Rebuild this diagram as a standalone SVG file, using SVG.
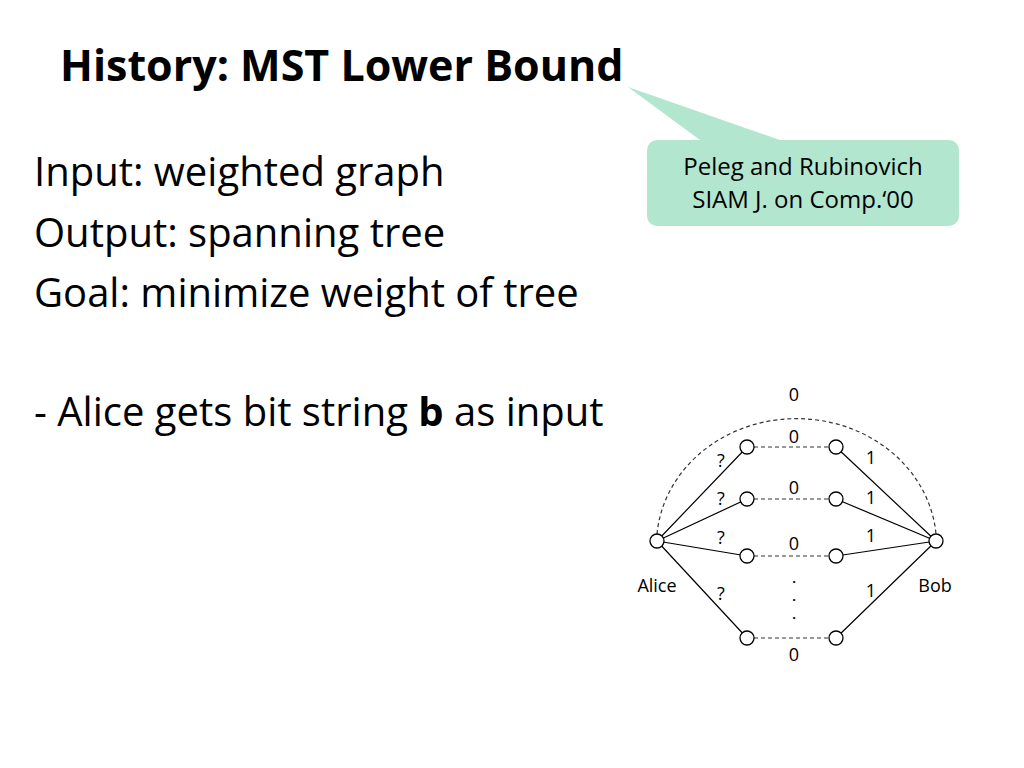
<svg xmlns="http://www.w3.org/2000/svg" width="1024" height="768" viewBox="0 0 1024 768">
<style>
text{font-family:"Open Sans","Liberation Sans",sans-serif;fill:#000}
.b{font-size:40px}
.s{font-size:18px;text-anchor:middle}
.dot{font-size:13px;font-weight:bold;text-anchor:middle}
.n{fill:#fff;stroke:#000;stroke-width:1.3}
.e{stroke:#000;stroke-width:1.2;fill:none}
.d{stroke:#333;stroke-width:1.2;fill:none;stroke-dasharray:4 3}
</style>
<rect width="1024" height="768" fill="#fff"/>
<text x="60" y="81" style="font-size:43px;font-weight:bold">History: MST Lower Bound</text>
<text class="b" x="34" y="186">Input: weighted graph</text>
<text class="b" x="34" y="247">Output: spanning tree</text>
<text class="b" x="34" y="307">Goal: minimize weight of tree</text>
<text class="b" x="34" y="426">- Alice gets bit string <tspan font-weight="bold">b</tspan> as input</text>
<g id="callout">
<path d="M628,87 L780,140 L700,140 Z" fill="#b3e6cf"/>
<rect x="647" y="140" width="312" height="86" rx="10" fill="#b3e6cf"/>
<text x="803" y="175" style="font-size:24px;text-anchor:middle">Peleg and Rubinovich</text>
<text x="803" y="208" style="font-size:24px;text-anchor:middle">SIAM J. on Comp.‘00</text>
</g>
<g id="connectors">
<path class="d" d="M657,534 A140,126 0 0 1 936,534"/>
<path class="d" d="M747,447H836M747,499H836M747,556H836M747,638H836"/>
<path class="e" d="M657,541L747,447M657,541L747,499M657,541L747,556M657,541L747,638M936,541L836,447M936,541L836,499M936,541L836,556M936,541L836,638"/>
</g>
<g id="nodes">
<circle id="alice" class="n" cx="657" cy="541" r="7"/>
<circle id="bob" class="n" cx="936" cy="541" r="7"/>
<circle class="n" cx="747" cy="447" r="7"/><circle class="n" cx="836" cy="447" r="7"/>
<circle class="n" cx="747" cy="499" r="7"/><circle class="n" cx="836" cy="499" r="7"/>
<circle class="n" cx="747" cy="556" r="7"/><circle class="n" cx="836" cy="556" r="7"/>
<circle class="n" cx="747" cy="638" r="7"/><circle class="n" cx="836" cy="638" r="7"/>
</g>
<g id="labels">
<text class="s" x="794" y="401">0</text>
<text class="s" x="794" y="443">0</text>
<text class="s" x="794" y="494">0</text>
<text class="s" x="794" y="550">0</text>
<text class="s" x="794" y="661">0</text>
<text class="dot" x="794" y="583">.</text>
<text class="dot" x="794" y="601">.</text>
<text class="dot" x="794" y="619">.</text>
<text class="s" x="721" y="467">?</text><text class="s" x="721" y="505">?</text>
<text class="s" x="721" y="544">?</text><text class="s" x="721" y="600">?</text>
<text class="s" x="871" y="464">1</text><text class="s" x="871" y="504">1</text>
<text class="s" x="871" y="542">1</text><text class="s" x="871" y="597">1</text>
<text class="s" x="657" y="592">Alice</text><text class="s" x="935" y="592">Bob</text>
</g>
</svg>
